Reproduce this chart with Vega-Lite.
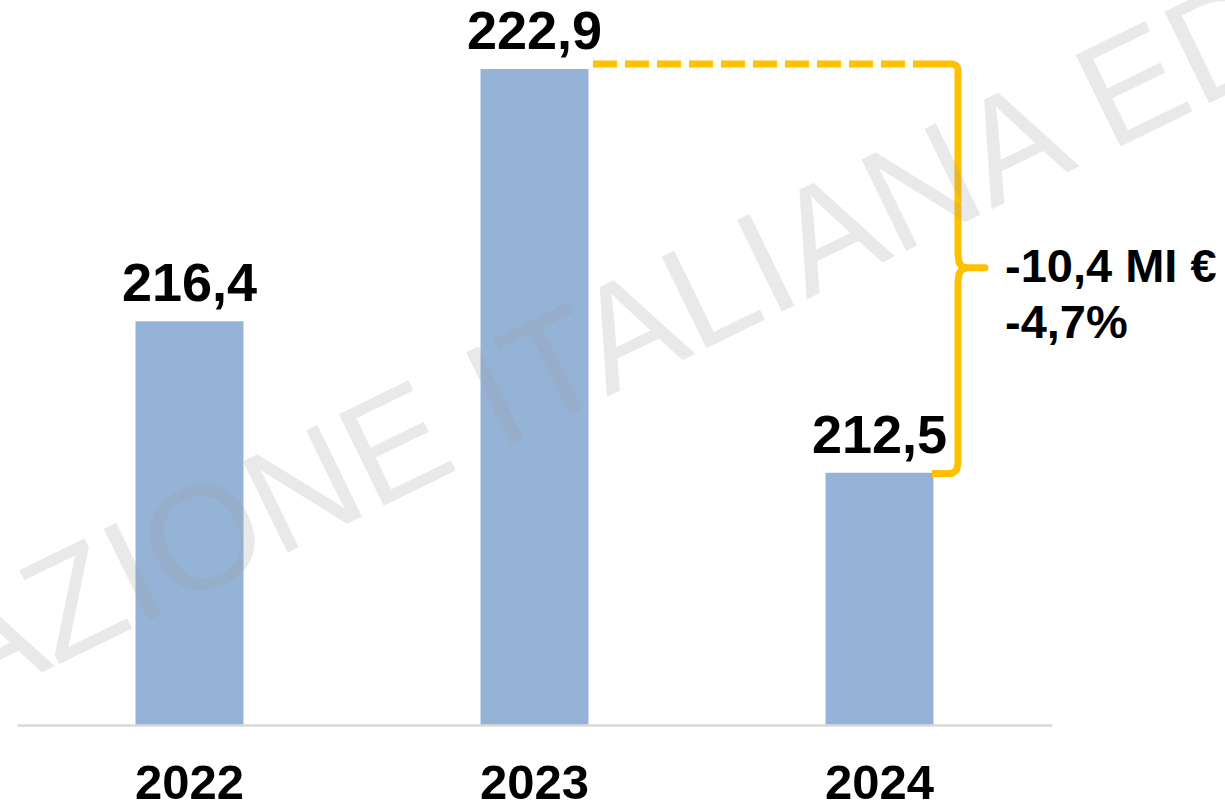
{
  "$schema": "https://vega.github.io/schema/vega-lite/v6.json",
  "width": 1035,
  "height": 725,
  "autosize": {"type": "none"},
  "padding": {"left": 17, "top": 0, "right": 173, "bottom": 77},
  "background": "white",
  "config": {"view": {"stroke": null}, "font": "Liberation Sans"},
  "datasets": {
    "bars": [
      {"year": "2022", "value": 216.4, "base": 206, "label": "216,4"},
      {"year": "2023", "value": 222.9, "base": 206, "label": "222,9"},
      {"year": "2024", "value": 212.5, "base": 206, "label": "212,5"}
    ],
    "dash": [
      {"v": 1.6696, "val": 223.03},
      {"v": 2.5971, "val": 223.03}
    ],
    "brace": [
      {"o": 1, "v": 2.5971, "val": 223.03},
      {"o": 2, "v": 2.7130, "val": 223.03},
      {"o": 3, "v": 2.7232, "val": 222.99},
      {"o": 4, "v": 2.7275, "val": 222.90},
      {"o": 5, "v": 2.7275, "val": 218.13},
      {"o": 6, "v": 2.7304, "val": 217.92},
      {"o": 7, "v": 2.7391, "val": 217.81},
      {"o": 8, "v": 2.7536, "val": 217.78},
      {"o": 9, "v": 2.8058, "val": 217.78},
      {"o": 10, "v": 2.7536, "val": 217.78},
      {"o": 11, "v": 2.7391, "val": 217.74},
      {"o": 12, "v": 2.7304, "val": 217.62},
      {"o": 13, "v": 2.7275, "val": 217.41},
      {"o": 14, "v": 2.7275, "val": 212.73},
      {"o": 15, "v": 2.7232, "val": 212.57},
      {"o": 16, "v": 2.7101, "val": 212.48},
      {"o": 17, "v": 2.6522, "val": 212.48}
    ],
    "notes": [
      {"v": 2.8638, "val": 217.41, "text": "-10,4 MI €"},
      {"v": 2.8638, "val": 215.97, "text": "-4,7%"}
    ],
    "markR": [
      {"v": 0.1101, "val": 207.52, "text": "ZIONE ITALIANA EDITORI GIORNALI"}
    ],
    "markL": [
      {"v": 0.1101, "val": 207.52, "text": "FEDERA"}
    ]
  },
  "resolve": {"scale": {"x": "independent"}},
  "layer": [
    {
      "data": {"name": "bars"},
      "encoding": {
        "x": {
          "field": "year",
          "type": "nominal",
          "scale": {"paddingInner": 0.687, "paddingOuter": 0.3435},
          "axis": {
            "title": null,
            "labelAngle": 0,
            "labelFont": "Liberation Sans",
            "labelFontWeight": "bold",
            "labelFontSize": 49,
            "labelColor": "#000000",
            "labelBaseline": "alphabetic",
            "labelPadding": 73,
            "ticks": false,
            "tickSize": 0,
            "domainColor": "#d9d9d9",
            "domainWidth": 2.5,
            "grid": false,
            "zindex": 1
          }
        },
        "y": {
          "field": "value",
          "type": "quantitative",
          "scale": {"domain": [206, 224.68], "nice": false, "zero": false},
          "axis": null
        }
      },
      "layer": [
        {
          "mark": {"type": "bar", "color": "#95B3D7"},
          "encoding": {"y2": {"field": "base"}}
        },
        {
          "mark": {
            "type": "text",
            "baseline": "alphabetic",
            "align": "center",
            "dy": -20,
            "font": "Liberation Sans",
            "fontWeight": "bold",
            "fontSize": 54,
            "color": "#000000"
          },
          "encoding": {"text": {"field": "label"}}
        }
      ]
    },
    {
      "layer": [
        {
          "data": {"name": "dash"},
          "mark": {"type": "line", "color": "#FFC000", "strokeWidth": 7, "strokeDash": [24, 8], "strokeCap": "butt"},
          "encoding": {
            "x": {"field": "v", "type": "quantitative", "scale": {"domain": [0, 3], "nice": false, "zero": false}, "axis": null},
            "y": {"field": "val", "type": "quantitative", "scale": {"domain": [206, 224.68], "nice": false, "zero": false}, "axis": null}
          }
        },
        {
          "data": {"name": "brace"},
          "mark": {"type": "line", "color": "#FFC000", "strokeWidth": 7, "strokeJoin": "round", "strokeCap": "butt"},
          "encoding": {
            "x": {"field": "v", "type": "quantitative", "scale": {"domain": [0, 3], "nice": false, "zero": false}, "axis": null},
            "y": {"field": "val", "type": "quantitative", "scale": {"domain": [206, 224.68], "nice": false, "zero": false}, "axis": null},
            "order": {"field": "o", "type": "quantitative"}
          }
        },
        {
          "data": {"name": "notes"},
          "mark": {"type": "text", "align": "left", "baseline": "alphabetic", "font": "Liberation Sans", "fontWeight": "bold", "fontSize": 47, "color": "#000000"},
          "encoding": {
            "x": {"field": "v", "type": "quantitative", "scale": {"domain": [0, 3], "nice": false, "zero": false}, "axis": null},
            "y": {"field": "val", "type": "quantitative", "scale": {"domain": [206, 224.68], "nice": false, "zero": false}, "axis": null},
            "text": {"field": "text"}
          }
        },
        {
          "data": {"name": "markR"},
          "mark": {"type": "text", "align": "left", "baseline": "alphabetic", "angle": 334, "font": "Liberation Sans", "fontSize": 148, "color": "#a0a0a0", "opacity": 0.22},
          "encoding": {
            "x": {"field": "v", "type": "quantitative", "scale": {"domain": [0, 3], "nice": false, "zero": false}, "axis": null},
            "y": {"field": "val", "type": "quantitative", "scale": {"domain": [206, 224.68], "nice": false, "zero": false}, "axis": null},
            "text": {"field": "text"}
          }
        },
        {
          "data": {"name": "markL"},
          "mark": {"type": "text", "align": "right", "baseline": "alphabetic", "angle": 334, "font": "Liberation Sans", "fontSize": 148, "color": "#a0a0a0", "opacity": 0.22},
          "encoding": {
            "x": {"field": "v", "type": "quantitative", "scale": {"domain": [0, 3], "nice": false, "zero": false}, "axis": null},
            "y": {"field": "val", "type": "quantitative", "scale": {"domain": [206, 224.68], "nice": false, "zero": false}, "axis": null},
            "text": {"field": "text"}
          }
        }
      ]
    }
  ]
}
